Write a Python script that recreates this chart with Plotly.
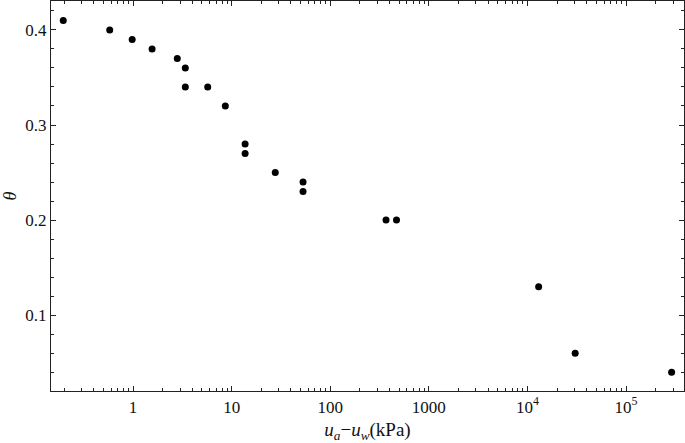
import plotly.graph_objects as go

# Suction (kPa) and volumetric water content
suction_kpa = [0.196, 0.58, 0.98, 1.56, 2.81, 3.39, 3.39, 5.72, 8.63,
               13.7, 13.7, 27.7, 53, 53, 368, 470, 13000, 30500, 290000]
theta = [0.41, 0.40, 0.39, 0.38, 0.37, 0.36, 0.34, 0.34, 0.32,
         0.28, 0.27, 0.25, 0.24, 0.23, 0.20, 0.20, 0.13, 0.06, 0.04]

x_tickvals = [1, 10, 100, 1000, 1e4, 1e5]
x_ticktext = ["1", "10", "100", "1000", "10<sup>4</sup>", "10<sup>5</sup>"]
y_tickvals = [0.1, 0.2, 0.3, 0.4]
y_ticktext = ["0.1", "0.2", "0.3", "0.4"]

fig = go.Figure()
fig.add_trace(go.Scatter(x=suction_kpa, y=theta, mode="markers",
                         marker=dict(color="black", size=7),
                         showlegend=False, cliponaxis=False))

axis_style = dict(showline=True, linecolor="#222", linewidth=1.2, mirror="ticks",
                  ticks="inside", ticklen=5, tickcolor="#222", tickwidth=1.2,
                  showgrid=False, zeroline=False, automargin=False)

fig.update_xaxes(type="log", range=[-0.832, 5.588],
                 tickvals=x_tickvals, ticktext=x_ticktext,
                 minor=dict(ticks="inside", ticklen=3, tickcolor="#222", tickwidth=1.2,
                            dtick="D1", showgrid=False),
                 title=dict(text="<i>u</i><sub><i>a</i></sub>\u2212<i>u</i><sub><i>w</i></sub>(kPa)",
                            standoff=8, font=dict(size=19)),
                 **axis_style)
fig.update_yaxes(range=[0.0203, 0.4304],
                 tickvals=y_tickvals, ticktext=y_ticktext,
                 minor=dict(ticks="inside", ticklen=3, tickcolor="#222", tickwidth=1.2,
                            dtick=0.02, showgrid=False),
                 title=dict(text="<i>\u03b8</i>", standoff=10, font=dict(size=18)),
                 **axis_style)

fig.update_layout(width=685, height=443,
                  margin=dict(l=51, r=1, t=1, b=52),
                  plot_bgcolor="#fff", paper_bgcolor="#fff",
                  font=dict(family="Liberation Serif, serif", size=17, color="#111"))

fig.write_html("out.html", config={"displayModeBar": False},
               post_script="document.body.style.margin='0';")
